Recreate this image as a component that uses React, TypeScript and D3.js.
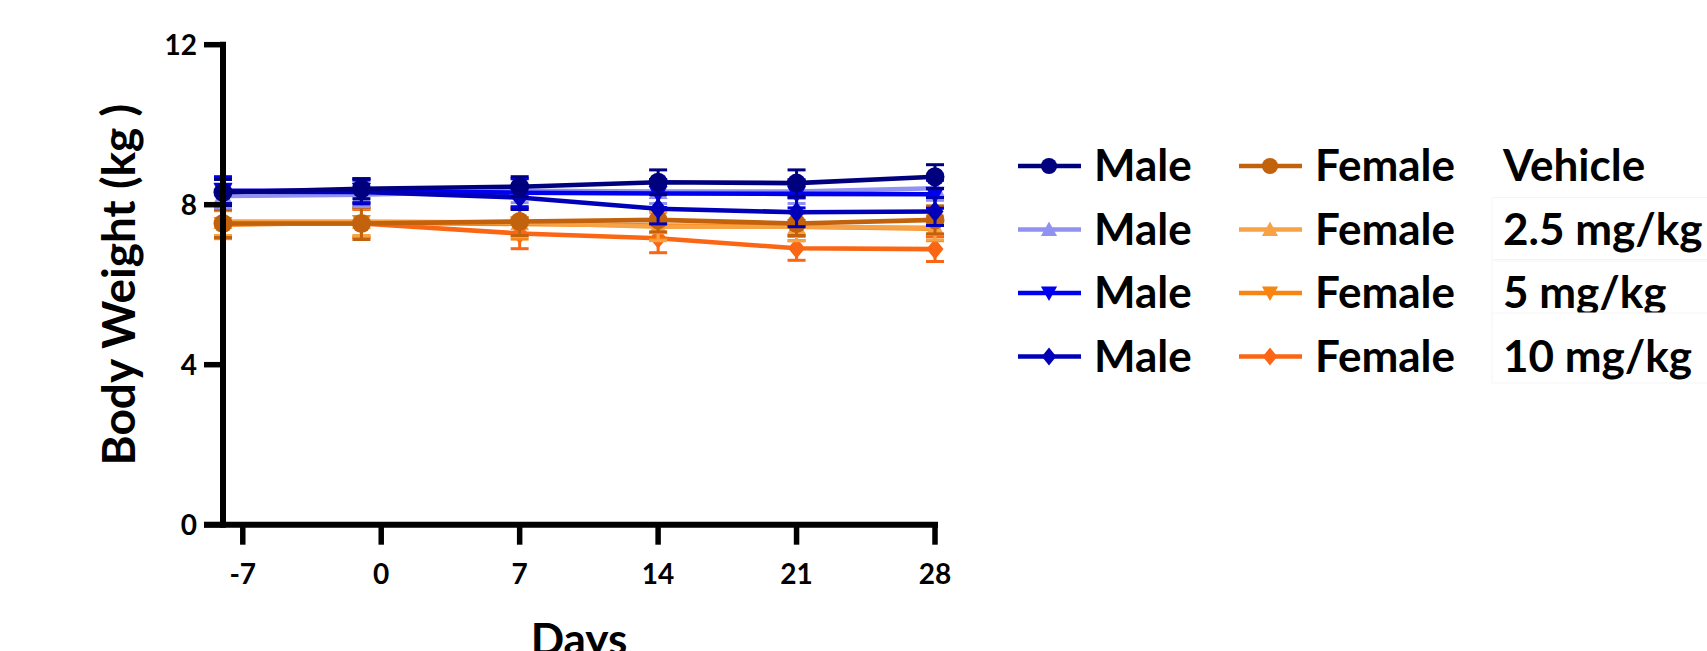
import React from "react";
import * as d3 from "d3";

// ---- data ----
const days = [-8, -1, 7, 14, 21, 28];
const xTicks = [-7, 0, 7, 14, 21, 28];
const yTicks = [0, 4, 8, 12];

const maleVehicle = [8.31, 8.4, 8.45, 8.56, 8.54, 8.7];
const maleVehicleSE = [0.33, 0.25, 0.25, 0.31, 0.33, 0.3];
const male25 = [8.22, 8.25, 8.35, 8.33, 8.33, 8.41];
const male25SE = [0.3, 0.3, 0.3, 0.3, 0.3, 0.3];
const male5 = [8.35, 8.35, 8.3, 8.28, 8.27, 8.26];
const male5SE = [0.35, 0.3, 0.35, 0.35, 0.35, 0.35];
const male10 = [8.33, 8.32, 8.18, 7.9, 7.81, 7.83];
const male10SE = [0.3, 0.3, 0.3, 0.38, 0.36, 0.35];

const femaleVehicle = [7.53, 7.53, 7.58, 7.62, 7.53, 7.62];
const femaleVehicleSE = [0.35, 0.4, 0.35, 0.3, 0.3, 0.35];
const female25 = [7.58, 7.58, 7.55, 7.45, 7.45, 7.42];
const female25SE = [0.35, 0.35, 0.35, 0.35, 0.35, 0.3];
const female5 = [7.5, 7.55, 7.52, 7.48, 7.45, 7.4];
const female5SE = [0.35, 0.35, 0.38, 0.35, 0.35, 0.3];
const female10 = [7.53, 7.53, 7.28, 7.16, 6.91, 6.89];
const female10SE = [0.35, 0.35, 0.38, 0.36, 0.3, 0.31];

const doseLabels = ["Vehicle", "2.5 mg/kg", "5 mg/kg", "10 mg/kg"];
const sexLabels = ["Male", "Female"];

type Shape = "circle" | "up" | "down" | "diamond";

const maleSeries = [
  { values: maleVehicle, se: maleVehicleSE, color: "#00007f", shape: "circle" as Shape },
  { values: male25, se: male25SE, color: "#9191f2", shape: "up" as Shape },
  { values: male5, se: male5SE, color: "#0000f0", shape: "down" as Shape },
  { values: male10, se: male10SE, color: "#0000b8", shape: "diamond" as Shape },
];
const femaleSeries = [
  { values: femaleVehicle, se: femaleVehicleSE, color: "#c2620c", shape: "circle" as Shape },
  { values: female25, se: female25SE, color: "#f7a244", shape: "up" as Shape },
  { values: female5, se: female5SE, color: "#f88412", shape: "down" as Shape },
  { values: female10, se: female10SE, color: "#fa6614", shape: "diamond" as Shape },
];

const FONT = "Lato, 'Open Sans', sans-serif";

function Marker({ shape, cx, cy, color, s = 1 }: { shape: Shape; cx: number; cy: number; color: string; s?: number }) {
  if (shape === "circle") return <circle cx={cx} cy={cy} r={9.5 * s} fill={color} />;
  if (shape === "up") {
    const w = 9.5 * s, h = 9.5 * s;
    return <path d={`M${cx},${cy - h} L${cx + w},${cy + h * 0.8} L${cx - w},${cy + h * 0.8} Z`} fill={color} />;
  }
  if (shape === "down") {
    const w = 9.5 * s, h = 9.5 * s;
    return <path d={`M${cx},${cy + h} L${cx + w},${cy - h * 0.8} L${cx - w},${cy - h * 0.8} Z`} fill={color} />;
  }
  const w = 8.5 * s, h = 10.5 * s;
  return <path d={`M${cx},${cy - h} L${cx + w},${cy} L${cx},${cy + h} L${cx - w},${cy} Z`} fill={color} />;
}

export default function App() {
  const W = 1707, H = 651;
  const x = d3.scaleLinear().domain([-8, 28]).range([223, 935]);
  const y = d3.scaleLinear().domain([0, 12]).range([524.7, 44.7]);

  const line = d3
    .line<number>()
    .x((_, i) => x(days[i]))
    .y((v) => y(v));

  const drawOrder = [
    femaleSeries[3], femaleSeries[2], femaleSeries[1], femaleSeries[0],
    maleSeries[1], maleSeries[2], maleSeries[3], maleSeries[0],
  ];

  const rowY = [166, 229.5, 293, 356.5];

  return (
    <svg width={W} height={H} viewBox={`0 0 ${W} ${H}`} style={{ display: "block", position: "absolute", left: 0, top: 0, background: "#fff" }}>
      <rect x={0} y={0} width={W} height={H} fill="#fff" />

      {/* series */}
      {drawOrder.map((s, k) => (
        <g key={k}>
          <path d={line(s.values) || ""} fill="none" stroke={s.color} strokeWidth={4.6} strokeLinejoin="round" />
          {s.values.map((v, i) => {
            const cx = x(days[i]);
            const top = y(v + s.se[i]);
            const bot = y(v - s.se[i]);
            return (
              <g key={i}>
                <line x1={cx} x2={cx} y1={top} y2={bot} stroke={s.color} strokeWidth={3} />
                <line x1={cx - 9} x2={cx + 9} y1={top} y2={top} stroke={s.color} strokeWidth={3} />
                <line x1={cx - 9} x2={cx + 9} y1={bot} y2={bot} stroke={s.color} strokeWidth={3} />
              </g>
            );
          })}
          {s.values.map((v, i) => (
            <Marker key={"m" + i} shape={s.shape} cx={x(days[i])} cy={y(v)} color={s.color} />
          ))}
        </g>
      ))}

      {/* y axis */}
      <line x1={x(-8)} x2={x(-8)} y1={y(12) - 3} y2={y(0) + 3} stroke="#000" strokeWidth={6} />
      {yTicks.map((t) => (
        <g key={t}>
          <line x1={204} x2={x(-8)} y1={y(t)} y2={y(t)} stroke="#000" strokeWidth={5.5} />
          <text x={197} y={y(t)} dy="0.36em" textAnchor="end" fontFamily={FONT} fontWeight={700} fontSize={28} fill="#000">
            {t}
          </text>
        </g>
      ))}

      {/* x axis */}
      <line x1={204} x2={x(28) + 3} y1={y(0)} y2={y(0)} stroke="#000" strokeWidth={6} />
      {xTicks.map((t) => (
        <g key={t}>
          <line x1={x(t)} x2={x(t)} y1={y(0)} y2={y(0) + 20} stroke="#000" strokeWidth={5.5} />
          <text x={x(t)} y={584} textAnchor="middle" fontFamily={FONT} fontWeight={700} fontSize={28} fill="#000">
            {t}
          </text>
        </g>
      ))}

      {/* axis titles */}
      <text x={579} y={655} textAnchor="middle" fontFamily={FONT} fontWeight={700} fontSize={44} fill="#000">
        Days
      </text>
      <text
        transform={`translate(135, ${(y(0) + y(12)) / 2}) rotate(-90)`}
        textAnchor="middle"
        fontFamily={FONT}
        fontWeight={700}
        fontSize={46}
        fill="#000"
      >
        Body Weight (kg )
      </text>

      {/* legend */}
      {rowY.map((ry, r) => (
        <g key={r}>
          {[maleSeries[r], femaleSeries[r]].map((s, c) => {
            const x0 = c === 0 ? 1018 : 1239;
            const tx = c === 0 ? 1094 : 1315;
            return (
              <g key={c}>
                <line x1={x0} x2={x0 + 63} y1={ry} y2={ry} stroke={s.color} strokeWidth={4.6} />
                <Marker shape={s.shape} cx={x0 + 31} cy={ry} color={s.color} s={0.85} />
                <text x={tx} y={ry + 15} fontFamily={FONT} fontWeight={700} fontSize={44} fill="#000">
                  {sexLabels[c]}
                </text>
              </g>
            );
          })}
        </g>
      ))}
      {rowY.map((ry, r) => (
        <g key={"d" + r}>
          {r > 0 && (
            <rect x={1492} y={r === 3 ? 313 : ry - 32} width={230} height={r === 3 ? 70 : 62} fill="#fff" stroke="#f5f5f5" strokeWidth={1} />
          )}
          <text x={1503} y={ry + 15} fontFamily={FONT} fontWeight={700} fontSize={44} fill="#000">
            {doseLabels[r]}
          </text>
        </g>
      ))}
    </svg>
  );
}
